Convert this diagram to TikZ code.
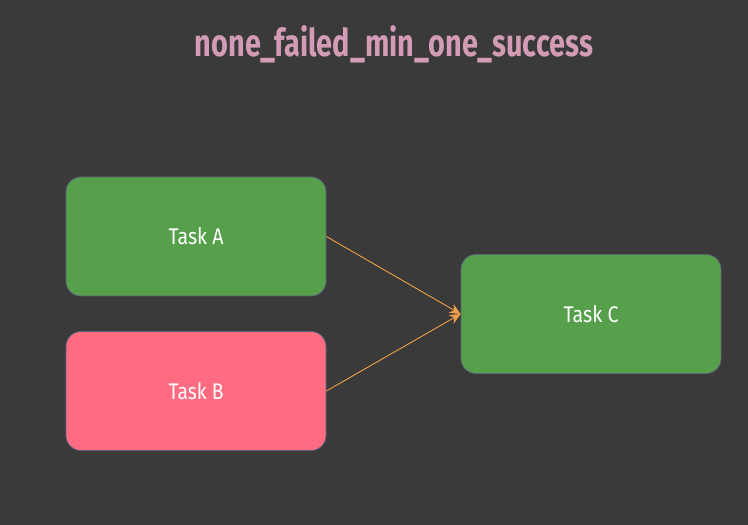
\documentclass[tikz,border=0pt]{standalone}
\usepackage{fontspec}
\setmainfont{Fira Sans}
\usetikzlibrary{arrows.meta}
\definecolor{bg}{HTML}{3A3A3A}
\definecolor{taskgreen}{HTML}{56A04B}
\definecolor{taskpink}{HTML}{FF6B81}
\definecolor{edge}{HTML}{5C6478}
\definecolor{titlepink}{HTML}{D39BB5}
\definecolor{arrowc}{HTML}{F0A04B}
\newcommand{\tasklabel}[1]{\resizebox{55pt}{17pt}{#1}}
\tikzset{
  task/.style={draw=edge, line width=0.8pt, rounded corners=15pt, minimum width=260pt, minimum height=119pt, text=white, font=\fontsize{15}{18}\selectfont},
  link/.style={draw=arrowc, line width=0.9pt, -{Stealth[length=11pt,width=10pt]}}
}
\begin{document}
\begin{tikzpicture}[x=1pt,y=1pt]
\fill[bg] (0,0) rectangle (748,525);
\useasboundingbox (0,0) rectangle (748,525);
\node[text=titlepink, font=\bfseries] (title) at (394,481) {\resizebox{398pt}{31pt}{none\_failed\_min\_one\_success}};
\node[task, fill=taskgreen] (a) at (196,288.5) {\tasklabel{Task A}};
\node[task, fill=taskpink] (b) at (196,134) {\tasklabel{Task B}};
\node[task, fill=taskgreen] (c) at (591,211) {\tasklabel{Task C}};
\draw[link] (a.east) -- (c.west);
\draw[link] (b.east) -- (c.west);
\end{tikzpicture}
\end{document}
